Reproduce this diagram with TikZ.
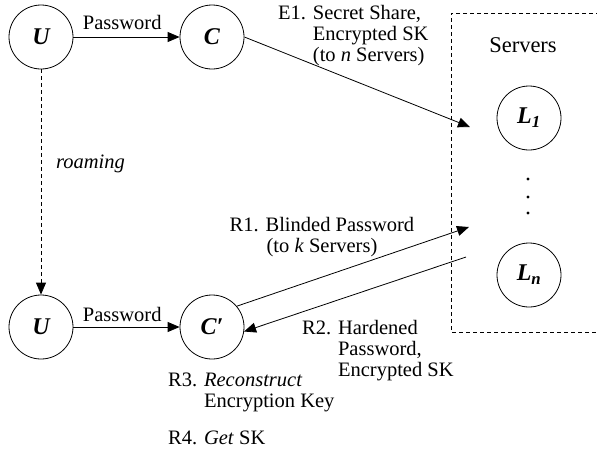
\documentclass[tikz,border=0pt]{standalone}
\usepackage{fontspec}
\setmainfont{Liberation Serif}
\usetikzlibrary{arrows.meta}

\begin{document}
\begin{tikzpicture}[x=1pt,y=-1pt,
        every node/.style={font=\fontsize{20.5}{21}\selectfont},
        party/.style={draw,circle,line width=0.8pt,minimum size=64pt,inner sep=0pt,
            font=\fontsize{24}{24}\selectfont\bfseries\itshape},
        msg/.style={-{Triangle[length=12pt,width=10pt]},line width=0.8pt},
        txt/.style={inner sep=0pt},
        boxline/.style={line width=0.8pt,dash pattern=on 4pt off 3pt}]
        \useasboundingbox (0,0) rectangle (597,456);
        \node[party] (U)  at (41,37)  {U};
        \node[party] (C)  at (212,37) {C};
        \node[party] (Ur) at (41,327) {U};
        \node[party] (Cr) at (212,327) {C′};
        \node[party] (L1) at (529,118) {L\textsubscript{1}};
        \node[party] (Ln) at (529,275) {L\textsubscript{n}};
        \foreach \y in {179,197,213} {
            \fill (528,\y) circle[radius=1.6pt];
        }
        \draw[boxline] (600,13) -- (451,13) -- (451,332) -- (600,332);
        \node[txt,anchor=base,font=\fontsize{22.5}{23}\selectfont] (servers) at (523,52) {Servers};
        \coordinate (tipE) at (470,127);
        \coordinate (tipR) at (469,227);
        \coordinate (fromR) at (466,257);
        \draw[msg] (U) -- node[txt,pos=0.46,anchor=base,yshift=8pt] (pwtop) {Password} (C);
        \draw[msg] (Ur) -- node[txt,pos=0.46,anchor=base,yshift=6pt] (pwbot) {Password} (Cr);
        \draw[msg,dash pattern=on 4pt off 3pt] (U) -- (Ur);
        \node[txt,anchor=base west,font=\fontsize{20.5}{21}\selectfont\itshape] (roam) at (56,168) {roaming};
        \draw[msg] (C.east) -- (tipE);
        \draw[msg] (Cr.40) -- (tipR);
        \draw[msg] (fromR) -- (Cr.-8);
        \node[txt,anchor=base west] (e1) at (278,19) {\begin{tabular}[t]{@{}l@{ }l@{}}
            E1. & Secret Share,\\ & Encrypted SK\\ & (to \textit{n} Servers)\end{tabular}};
        \node[txt,anchor=base] (r1) at (322,231) {\begin{tabular}[t]{@{}c@{}}
            R1. Blinded Password\\ (to \textit{k} Servers)\end{tabular}};
        \node[txt,anchor=base west] (r2) at (302,334) {\begin{tabular}[t]{@{}l@{ }l@{}}
            R2. & Hardened\\ & Password,\\ & Encrypted SK\end{tabular}};
        \node[txt,anchor=base west] (r3) at (168,386) {\begin{tabular}[t]{@{}l@{ }l@{}}
            R3. & \textit{Reconstruct}\\ & Encryption Key\end{tabular}};
        \node[txt,anchor=base west] (r4) at (168,444) {R4. \textit{Get} SK};
\end{tikzpicture}
\end{document}
